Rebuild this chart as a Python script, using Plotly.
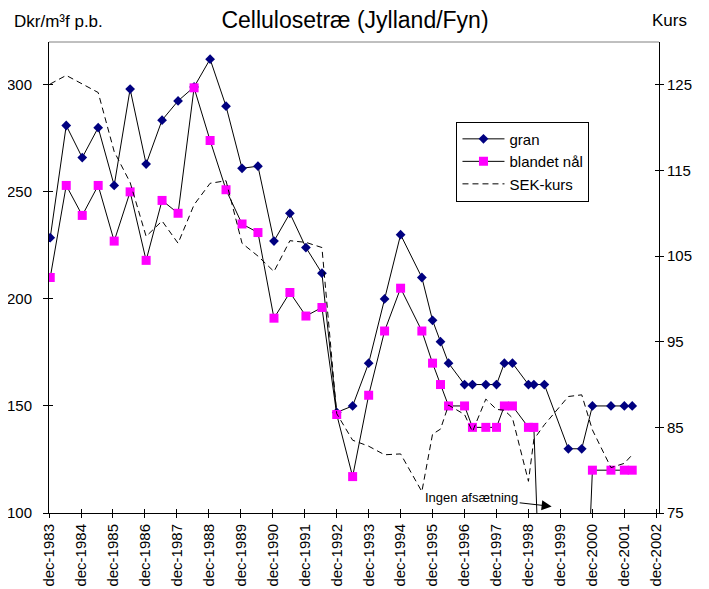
import plotly.graph_objects as go

# ---- data ----
dates = [
    "1983-12-15", "1984-06-15", "1984-12-15", "1985-06-15", "1985-12-15",
    "1986-06-15", "1986-12-15", "1987-06-15", "1987-12-15", "1988-06-15",
    "1988-12-15", "1989-06-15", "1989-12-15", "1990-06-15", "1990-12-15",
    "1991-06-15", "1991-12-15", "1992-06-15", "1992-12-01", "1993-06-01",
    "1993-12-01", "1994-06-01", "1994-12-01", "1995-08-01", "1995-12-01",
    "1996-03-01", "1996-06-01", "1996-12-01", "1997-03-01", "1997-08-01",
    "1997-12-01", "1998-03-01", "1998-06-01", "1998-12-01", "1999-02-01",
    "1999-06-01", "2000-03-01", "2000-08-01", "2000-12-01", "2001-07-01",
    "2001-12-01", "2002-03-01",
]

gran = [
    228.6, 281, 266, 280, 253, 298, 263, 283.5, 292.5, 299,
    312, 290, 261, 262, 227, 240, 224, 212, 147, 150,
    170, 200, 230, 210, 190, 180, 170, 160, 160, 160,
    160, 170, 170, 160, 160, 160, 130, 130, 150, 150,
    150, 150,
]

blandet_naal = [
    210, 253, 239, 253, 227, 250, 218, 246, 240, 298.6,
    274, 251, 235, 231, 191, 203, 192, 196, 146, 117,
    155, 185, 205, 185, 170, 160, 150, 150, 140, 140,
    140, 150, 150, 140, 140, 0, 0, 0, 120, 120,
    120, 120,
]

sek_kurs = [
    125.1, 126.1, 125.1, 124.1, 117.2, 113.6, 107.3, 109.1, 106.5, 111.0,
    113.5, 113.8, 106.5, 105.0, 103.2, 106.8, 106.6, 106.0, 86.6, 83.5,
    82.8, 81.8, 81.9, 77.5, 84.2, 84.8, 87.6, 86.5, 84.5, 88.3,
    87.1, 87.0, 86.1, 78.7, 83.6, 85.3, 88.6, 88.8, 84.7, 80.3,
    80.8, 81.8,
]

tick_dates = [
    "1983-12-01", "1984-12-01", "1985-12-01", "1986-12-01", "1987-12-01",
    "1988-12-01", "1989-12-01", "1990-12-01", "1991-12-01", "1992-12-01",
    "1993-12-01", "1994-12-01", "1995-12-01", "1996-12-01", "1997-12-01",
    "1998-12-01", "1999-12-01", "2000-12-01", "2001-12-01", "2002-12-01",
]
tick_labels = [
    "dec-1983", "dec-1984", "dec-1985", "dec-1986", "dec-1987",
    "dec-1988", "dec-1989", "dec-1990", "dec-1991", "dec-1992",
    "dec-1993", "dec-1994", "dec-1995", "dec-1996", "dec-1997",
    "dec-1998", "dec-1999", "dec-2000", "dec-2001", "dec-2002",
]

FONT = "Liberation Sans, Arial, sans-serif"
X_RANGE = ["1983-12-01", "2003-01-01"]
Y_RANGE = [100, 320]
Y2_RANGE = [75, 130]

# the page body has an 8px default margin; figure is sized to fit inside it
FIG_W, FIG_H = 693, 581

fig = go.Figure()

fig.add_trace(go.Scatter(
    x=dates, y=gran, name="gran", mode="lines+markers",
    line=dict(color="black", width=1),
    marker=dict(symbol="diamond", size=7.5, color="#000080", line=dict(width=0)),
))
fig.add_trace(go.Scatter(
    x=dates, y=blandet_naal, name="blandet nål", mode="lines+markers",
    line=dict(color="black", width=1),
    marker=dict(symbol="square", size=9, color="#FF00FF", line=dict(width=0)),
))
fig.add_trace(go.Scatter(
    x=dates, y=sek_kurs, name="SEK-kurs", mode="lines", yaxis="y2",
    line=dict(color="black", width=1, dash="6px,4px"),
))

# empty helper traces so overlay axes (for crossing tick marks) get drawn
for xa, ya in [("x2", "y"), ("x", "y3"), ("x", "y4")]:
    fig.add_trace(go.Scatter(x=[], y=[], xaxis=xa, yaxis=ya,
                             showlegend=False, hoverinfo="skip"))

tickfont = dict(family=FONT, size=15, color="black")

fig.update_layout(
    width=FIG_W, height=FIG_H,
    margin=dict(l=41, r=42, t=34, b=76, autoexpand=False),
    paper_bgcolor="white", plot_bgcolor="white",
    font=dict(family=FONT, color="black"),
    title=dict(text="Cellulosetræ (Jylland/Fyn)", x=347 / FIG_W, xanchor="center",
               xref="container", y=1 - 12 / FIG_H, yanchor="middle",
               yref="container", font=dict(family=FONT, size=23, color="black")),
    showlegend=True,
    legend=dict(x=0.668, y=0.831, xanchor="left", yanchor="top",
                bordercolor="black", borderwidth=1, bgcolor="white",
                font=dict(family=FONT, size=15, color="black"),
                itemwidth=42, tracegroupgap=0),
    xaxis=dict(type="date", range=X_RANGE, tickvals=tick_dates,
               ticktext=tick_labels, tickangle=-90,
               tickfont=dict(family=FONT, size=15, color="black"),
               ticks="outside", ticklen=4, tickcolor="black",
               showline=True, linecolor="black", linewidth=1,
               showgrid=False, zeroline=False, automargin=False, anchor="y"),
    xaxis2=dict(type="date", range=X_RANGE, tickvals=tick_dates,
                overlaying="x", anchor="y", side="bottom",
                ticks="inside", ticklen=4, tickcolor="black",
                showticklabels=False, showline=False, showgrid=False,
                zeroline=False, automargin=False),
    yaxis=dict(range=Y_RANGE, tick0=100, dtick=50, tickfont=tickfont,
               ticks="outside", ticklen=5, tickcolor="black",
               ticklabelstandoff=8,
               showline=True, linecolor="black", linewidth=1,
               showgrid=False, zeroline=False, automargin=False),
    yaxis2=dict(range=Y2_RANGE, tick0=75, dtick=10, tickfont=tickfont,
                overlaying="y", side="right", anchor="x",
                ticks="outside", ticklen=4, tickcolor="black",
                showline=True, linecolor="black", linewidth=1,
                showgrid=False, zeroline=False, automargin=False),
    yaxis3=dict(range=Y_RANGE, tick0=100, dtick=50, overlaying="y",
                side="left", anchor="x", ticks="inside", ticklen=4,
                tickcolor="black", showticklabels=False, showline=False,
                showgrid=False, zeroline=False, automargin=False),
    yaxis4=dict(range=Y2_RANGE, tick0=75, dtick=10, overlaying="y",
                side="right", anchor="x", ticks="inside", ticklen=4,
                tickcolor="black", showticklabels=False, showline=False,
                showgrid=False, zeroline=False, automargin=False),
    shapes=[dict(type="line", xref="paper", yref="paper", x0=0, x1=1,
                 y0=1, y1=1, line=dict(color="#808080", width=1))],
    annotations=[
        dict(text="Dkr/m³f p.b.", xref="paper", yref="paper",
             x=-0.060, y=1.044, xanchor="left", yanchor="middle",
             showarrow=False, font=dict(family=FONT, size=17, color="black")),
        dict(text="Kurs", xref="paper", yref="paper",
             x=0.986, y=1.045, xanchor="left", yanchor="middle",
             showarrow=False, font=dict(family=FONT, size=17, color="black")),
        dict(text="Ingen afsætning", xref="paper", yref="paper",
             x=0.824, y=0.014, ax=-80, ay=-9, axref="pixel", ayref="pixel",
             showarrow=True, arrowhead=2, arrowsize=2, arrowwidth=1,
             arrowcolor="black", standoff=0, startstandoff=0,
             font=dict(family=FONT, size=13, color="black")),
    ],
)

fig.write_html("out.html")
